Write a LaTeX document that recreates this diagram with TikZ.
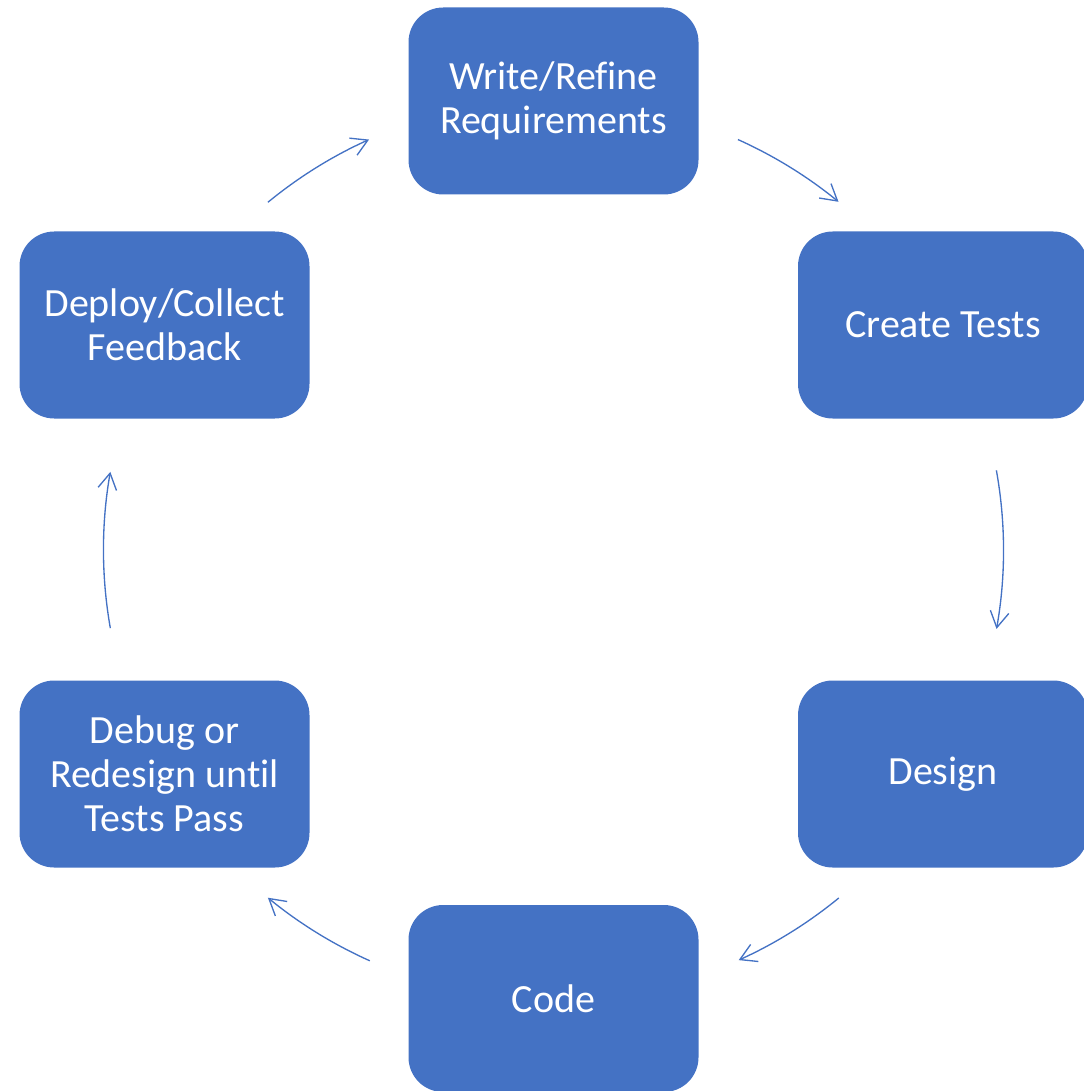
\documentclass[tikz,border=0pt]{standalone}
\usepackage{fontspec}
\setmainfont[Ligatures={NoCommon}]{Carlito}
\usetikzlibrary{arrows.meta}
\definecolor{officeblue}{HTML}{4472C4}
\begin{document}
\begin{tikzpicture}[x=0.75pt,y=0.75pt,
  stagebox/.style={fill=officeblue, draw=none, rounded corners=26pt,
    minimum width=217.5pt, minimum height=140.25pt, inner sep=0pt,
    text=white, align=center,
    font=\fontsize{30pt}{33pt}\selectfont},
  arr/.style={draw=officeblue, line width=1pt,
    -{Straight Barb[length=12pt,width=14pt,line width=1pt]}}]
\useasboundingbox (0,0) rectangle (1083,-1091);
\coordinate (c) at (553.5,-550);
\node[stagebox] (wr) at (553.5,-101) {Write/Refine\\Requirements};
\node[stagebox] (ct) at (943,-325) {Create Tests};
\node[stagebox] (ds) at (943,-774) {Design};
\node[stagebox] (cd) at (553.5,-998.5) {Code};
\node[stagebox] (db) at (164.5,-774) {Debug or\\Redesign until\\Tests Pass};
\node[stagebox] (dp) at (164.5,-325) {Deploy/Collect\\Feedback};
\draw[arr] (c) ++(65.8:450) arc[start angle=65.8, end angle=50.7, radius=337.5pt];
\draw[arr] (c) ++(10.2:450) arc[start angle=10.2, end angle=-10.1, radius=337.5pt];
\draw[arr] (c) ++(-50.65:450) arc[start angle=-50.65, end angle=-65.7, radius=337.5pt];
\draw[arr] (c) ++(-114.1:450) arc[start angle=-114.1, end angle=-129.4, radius=337.5pt];
\draw[arr] (c) ++(-170:450) arc[start angle=-170, end angle=-190, radius=337.5pt];
\draw[arr] (c) ++(129.4:450) arc[start angle=129.4, end angle=114.2, radius=337.5pt];
\end{tikzpicture}
\end{document}
